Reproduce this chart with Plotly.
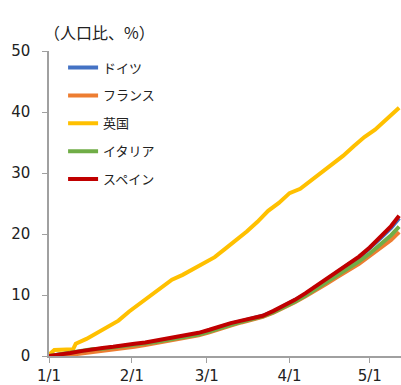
import plotly.graph_objects as go
import pandas as pd

# ---- data ----
uk_days = [0, 2, 9, 10, 14, 18, 22, 26, 30, 34, 38, 42, 46, 50, 54, 58, 62, 66, 70, 74, 78,
           82, 86, 90, 94, 98, 102, 106, 110, 114, 118, 122, 126, 131]
uk_vals = [0.2, 1.0, 1.1, 2.0, 2.8, 3.8, 4.8, 5.8, 7.3, 8.6, 10.0, 11.3, 12.5, 13.3, 14.3, 15.3,
           16.2, 17.6, 18.9, 20.4, 22.0, 23.8, 25.1, 26.7, 27.4, 28.7, 30.0, 31.5, 32.8, 34.4,
           35.9, 37.1, 38.7, 40.7]

eu_days = [0, 4, 8, 12, 16, 20, 24, 28, 32, 36, 40, 44, 48, 52, 56, 60, 64, 68, 72, 76, 80,
           84, 88, 92, 96, 100, 104, 108, 112, 116, 120, 124, 128, 131]
spain = [0.0, 0.2, 0.5, 0.8, 1.1, 1.3, 1.5, 1.8, 2.0, 2.2, 2.5, 2.8, 3.1, 3.4, 3.8, 4.3, 4.9,
         5.4, 5.8, 6.2, 6.6, 7.4, 8.3, 9.2, 10.3, 11.5, 12.8, 14.0, 15.2, 16.3, 17.8, 19.6,
         21.3, 23.0]
germany = [0.0, 0.2, 0.4, 0.7, 1.0, 1.2, 1.4, 1.7, 1.9, 2.1, 2.4, 2.7, 3.0, 3.3, 3.7, 4.2, 4.8,
           5.3, 5.7, 6.2, 6.6, 7.3, 8.2, 9.1, 10.1, 11.3, 12.6, 13.8, 15.0, 16.1, 17.6, 19.3,
           21.0, 22.6]
italy = [0.0, 0.3, 0.6, 0.9, 1.1, 1.2, 1.4, 1.6, 1.8, 2.0, 2.3, 2.6, 2.9, 3.2, 3.5, 4.0, 4.6,
         5.1, 5.6, 6.1, 6.5, 7.2, 8.0, 8.9, 9.9, 11.0, 12.2, 13.3, 14.4, 15.5, 16.8, 18.3,
         19.8, 21.2]
france = [0.0, 0.05, 0.2, 0.4, 0.6, 0.8, 1.0, 1.3, 1.5, 1.8, 2.1, 2.4, 2.7, 3.0, 3.4, 3.9, 4.5,
          5.0, 5.5, 6.0, 6.4, 7.1, 7.9, 8.8, 9.8, 10.8, 11.9, 13.0, 14.0, 15.1, 16.4, 17.7,
          19.0, 20.3]

tick_dates = ["2021-01-01", "2021-02-01", "2021-03-01", "2021-04-01", "2021-05-01"]
tick_labels = ["1/1", "2/1", "3/1", "4/1", "5/1"]
y_ticks = [0, 10, 20, 30, 40, 50]

base = pd.Timestamp("2021-01-01")
uk_x = [base + pd.Timedelta(days=d) for d in uk_days]
eu_x = [base + pd.Timedelta(days=d) for d in eu_days]

series = [
    ("ドイツ", eu_x, germany, "#4472C4"),
    ("フランス", eu_x, france, "#ED7D31"),
    ("英国", uk_x, uk_vals, "#FFC000"),
    ("イタリア", eu_x, italy, "#70AD47"),
    ("スペイン", eu_x, spain, "#C00000"),
]

fig = go.Figure()
for i, (name, xs, ys, col) in enumerate(series):
    fig.add_trace(go.Scatter(x=xs, y=ys, mode="lines", name=name, legendgroup=str(i),
                             line=dict(color=col, width=4)))

axis_font = dict(family="DejaVu Sans", size=15, color="#222")
fig.update_layout(
    width=401, height=385,
    margin=dict(l=49, r=0, t=51, b=29, autoexpand=False),
    plot_bgcolor="white", paper_bgcolor="white",
    showlegend=True,
    legend=dict(x=0.04, y=0.995, xanchor="left", yanchor="top",
                traceorder="grouped", tracegroupgap=8, itemwidth=30,
                font=dict(family="Noto Sans CJK JP", size=13, color="#222"),
                bgcolor="rgba(0,0,0,0)"),
    xaxis=dict(range=[base, base + pd.Timedelta(days=131.7)],
               tickvals=tick_dates, ticktext=tick_labels,
               showline=True, linecolor="#A0A0A0", linewidth=1.5,
               ticks="outside", ticklen=5, tickcolor="#A0A0A0",
               showgrid=False, zeroline=False, tickfont=axis_font,
               automargin=False),
    yaxis=dict(range=[0, 50], tickvals=y_ticks,
               showline=True, linecolor="#A0A0A0", linewidth=1.5,
               ticks="outside", ticklen=5, tickcolor="#A0A0A0",
               showgrid=False, zeroline=False, tickfont=axis_font,
               ticklabelstandoff=9, automargin=False),
    annotations=[dict(text="（人口比、%）", xref="paper", yref="paper",
                      x=-0.02, y=1.062, xanchor="left", yanchor="middle",
                      showarrow=False,
                      font=dict(family="Noto Sans CJK JP", size=16, color="#222"))],
)

fig.write_html("out.html", config={"displayModeBar": False},
               post_script="document.body.style.margin='0px';document.body.style.overflow='hidden';")
